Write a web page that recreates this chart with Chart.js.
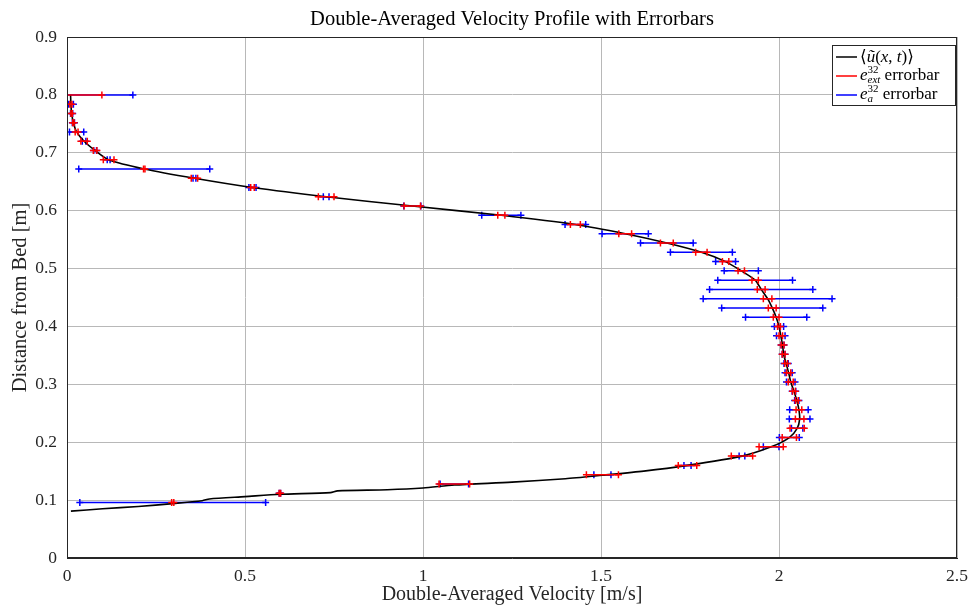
<!DOCTYPE html>
<html>
<head>
<meta charset="utf-8">
<script src="https://cdn.jsdelivr.net/npm/chart.js@4.4.0/dist/chart.umd.min.js"></script>
<style>
  html, body { margin: 0; padding: 0; background: #fff; }
  canvas { display: block; }
</style>
</head>
<body>
<canvas id="chart" width="968" height="607"></canvas>
<script>
// 测点高度 [m]
const zPos = [0.800, 0.784, 0.768, 0.752, 0.736, 0.720, 0.704, 0.688, 0.672, 0.656,
              0.640, 0.624, 0.608, 0.592, 0.576, 0.560, 0.544, 0.528, 0.512, 0.496,
              0.480, 0.464, 0.448, 0.432, 0.416, 0.400, 0.384, 0.368, 0.352, 0.336,
              0.320, 0.304, 0.288, 0.272, 0.256, 0.240, 0.224, 0.208, 0.192, 0.176,
              0.160, 0.144, 0.128, 0.112, 0.096];
// 双平均速度 [m/s]
const uMean = [0.010, 0.011, 0.013, 0.018, 0.027, 0.048, 0.079, 0.117, 0.217, 0.358,
               0.521, 0.728, 0.970, 1.220, 1.428, 1.568, 1.685, 1.782, 1.850, 1.894,
               1.933, 1.950, 1.968, 1.981, 1.992, 2.000, 2.005, 2.010, 2.013, 2.020,
               2.027, 2.033, 2.042, 2.050, 2.056, 2.058, 2.051, 2.029, 1.978, 1.896,
               1.743, 1.504, 1.088, 0.598, 0.297];
// e_ext^32 误差半宽
const eExt = [0.088, 0.003, 0.002, 0.002, 0.004, 0.009, 0.005, 0.015, 0.002, 0.009,
              0.005, 0.022, 0.023, 0.010, 0.014, 0.018, 0.018, 0.016, 0.009, 0.009,
              0.009, 0.011, 0.012, 0.011, 0.008, 0.004, 0.005, 0.004, 0.004, 0.004,
              0.006, 0.007, 0.004, 0.004, 0.008, 0.012, 0.020, 0.020, 0.034, 0.030,
              0.026, 0.045, 0.043, 0.002, 0.003];
// e_a^32 误差半宽
const eA = [0.175, 0.007, 0.003, 0.003, 0.020, 0.005, 0.004, 0.004, 0.184, 0.004,
            0.010, 0.008, 0.024, 0.055, 0.029, 0.065, 0.074, 0.087, 0.028, 0.048,
            0.105, 0.145, 0.181, 0.142, 0.086, 0.013, 0.012, 0.004, 0.004, 0.006,
            0.010, 0.012, 0.005, 0.006, 0.026, 0.029, 0.016, 0.028, 0.022, 0.008,
            0.010, 0.024, 0.040, 0.002, 0.261];
// 底部剖面曲线（误差点以下部分）
const profileLowU = [0.011, 0.100, 0.200, 0.297, 0.380, 0.400, 0.500, 0.598, 0.740, 0.760,
                     0.900, 1.000, 1.088, 1.250, 1.400, 1.504, 1.620, 1.743];
const profileLowZ = [0.081, 0.085, 0.089, 0.094, 0.099, 0.102, 0.106, 0.110, 0.113, 0.116,
                     0.118, 0.121, 0.126, 0.131, 0.137, 0.143, 0.150, 0.160];

const xTickValues = [0, 0.5, 1, 1.5, 2, 2.5];
const yTickValues = [0, 0.1, 0.2, 0.3, 0.4, 0.5, 0.6, 0.7, 0.8, 0.9];

const SERIF = '"Liberation Serif", "DejaVu Serif", serif';
const AXIS_COLOR = '#262626';

// 误差棒：每一行两个端点 + 一个空点断开
function buildBars(half) {
    const pts = [];
    zPos.forEach((z, i) => {
        pts.push({ x: uMean[i] - half[i], y: z });
        pts.push({ x: uMean[i] + half[i], y: z });
        pts.push({ x: null, y: null });
    });
    return pts;
}

// 剖面曲线：底部点 + 误差点中心（从下往上）
function buildProfile() {
    const pts = profileLowU.map((u, i) => ({ x: u, y: profileLowZ[i] }));
    for (let i = zPos.length - 1; i >= 0; i--) {
        if (zPos[i] > profileLowZ[profileLowZ.length - 1]) pts.push({ x: uMean[i], y: zPos[i] });
    }
    return pts;
}

function barDataset(label, color, half, order) {
    return {
        label: label,
        data: buildBars(half),
        showLine: true,
        borderColor: color,
        backgroundColor: color,
        borderWidth: 1.5,
        pointStyle: 'cross',
        pointRadius: 3.5,
        pointBorderWidth: 1.5,
        pointBorderColor: color,
        spanGaps: false,
        order: order
    };
}

// 标题 + 外框 + 图例
const decorPlugin = {
    id: 'decor',
    afterDraw(chart) {
        const ctx = chart.ctx;
        const a = chart.chartArea;
        ctx.save();
        // 外框
        ctx.strokeStyle = AXIS_COLOR;
        ctx.lineWidth = 1;
        ctx.strokeRect(Math.round(a.left) + 0.5, Math.round(a.top) + 0.5,
                       Math.round(a.right - a.left) - 1, Math.round(a.bottom - a.top) - 1);
        // 标题
        ctx.fillStyle = '#000';
        ctx.font = '20.5px ' + SERIF;
        ctx.textAlign = 'center';
        ctx.textBaseline = 'middle';
        ctx.fillText('Double-Averaged Velocity Profile with Errorbars', (a.left + a.right) / 2, 20);

        // 图例
        const bx = 832, by = 45, bw = 124, bh = 61;
        ctx.fillStyle = '#fff';
        ctx.fillRect(bx, by, bw, bh);
        ctx.strokeStyle = AXIS_COLOR;
        ctx.strokeRect(bx + 0.5, by + 0.5, bw - 1, bh - 1);

        const rows = [
            { color: '#000000', y: 57 },
            { color: '#ff0000', y: 76 },
            { color: '#0000ff', y: 95 }
        ];
        rows.forEach(r => {
            ctx.strokeStyle = r.color;
            ctx.lineWidth = 1.5;
            ctx.beginPath();
            ctx.moveTo(836, r.y);
            ctx.lineTo(857, r.y);
            ctx.stroke();
        });

        ctx.fillStyle = '#000';
        ctx.textAlign = 'left';
        ctx.textBaseline = 'alphabetic';
        const drawPiece = (x, y, p) => {
            ctx.font = (p.italic ? 'italic ' : '') + p.size + 'px ' + SERIF;
            ctx.fillText(p.t, x, y);
            return ctx.measureText(p.t).width;
        };
        const runs = (x, y, list) => {
            list.forEach(p => {
                if (p.stack) {
                    const w1 = drawPiece(x, y + p.stack[0].dy, p.stack[0]);
                    const w2 = drawPiece(x, y + p.stack[1].dy, p.stack[1]);
                    x += Math.max(w1, w2);
                } else {
                    x += drawPiece(x, y + (p.dy || 0), p);
                }
            });
        };
        runs(860, 62, [
            { t: '\u27E8', size: 17 },
            { t: '\u0169', size: 17, italic: true },
            { t: '(', size: 17 },
            { t: 'x', size: 17, italic: true },
            { t: ', ', size: 17 },
            { t: 't', size: 17, italic: true },
            { t: ')', size: 17 },
            { t: '\u27E9', size: 17 }
        ]);
        runs(860, 80, [
            { t: 'e', size: 17, italic: true },
            { stack: [
                { t: '32', size: 11, dy: -7 },
                { t: 'ext', size: 11, italic: true, dy: 3 }
            ] },
            { t: ' errorbar', size: 17 }
        ]);
        runs(860, 99, [
            { t: 'e', size: 17, italic: true },
            { stack: [
                { t: '32', size: 11, dy: -7 },
                { t: 'a', size: 11, italic: true, dy: 3 }
            ] },
            { t: ' errorbar', size: 17 }
        ]);
        ctx.restore();
    }
};

const ctx = document.getElementById('chart').getContext('2d');
new Chart(ctx, {
    type: 'scatter',
    data: {
        datasets: [
            barDataset('e_ext errorbar', '#ff0000', eExt, 0),
            {
                label: 'profile',
                data: buildProfile(),
                showLine: true,
                borderColor: '#000000',
                borderWidth: 1.6,
                pointRadius: 0,
                tension: 0.25,
                order: 1
            },
            barDataset('e_a errorbar', '#0000ff', eA, 2)
        ]
    },
    options: {
        responsive: false,
        animation: false,
        devicePixelRatio: 1,
        layout: { padding: { top: 37, right: 11, left: 0, bottom: 0 } },
        plugins: {
            legend: { display: false },
            tooltip: { enabled: false }
        },
        scales: {
            x: {
                type: 'linear',
                min: 0,
                max: 2.5,
                afterFit: (scale) => {
                    scale.height = 49;
                    scale.paddingLeft = 0;
                    scale.paddingRight = 0;
                },
                afterBuildTicks: (scale) => { scale.ticks = xTickValues.map(v => ({ value: v })); },
                grid: { color: '#b8b8b8', lineWidth: 1, drawTicks: false },
                border: { color: AXIS_COLOR, width: 1 },
                ticks: {
                    padding: 8,
                    maxRotation: 0,
                    color: AXIS_COLOR,
                    font: { family: SERIF, size: 17.5 },
                    callback: (v) => String(+v.toFixed(2))
                },
                title: {
                    display: true,
                    text: 'Double-Averaged Velocity [m/s]',
                    color: AXIS_COLOR,
                    font: { family: SERIF, size: 20 },
                    padding: { top: 0, bottom: 0 }
                }
            },
            y: {
                type: 'linear',
                min: 0,
                max: 0.9,
                afterFit: (scale) => {
                    scale.width = 67;
                    scale.paddingTop = 0;
                    scale.paddingBottom = 0;
                },
                afterBuildTicks: (scale) => { scale.ticks = yTickValues.map(v => ({ value: v })); },
                grid: { color: '#b8b8b8', lineWidth: 1, drawTicks: false },
                border: { color: AXIS_COLOR, width: 1 },
                ticks: {
                    padding: 10,
                    color: AXIS_COLOR,
                    font: { family: SERIF, size: 17.5 },
                    callback: (v) => String(+v.toFixed(2))
                },
                title: {
                    display: true,
                    text: 'Distance from Bed [m]',
                    color: AXIS_COLOR,
                    font: { family: SERIF, size: 20.5 },
                    padding: { top: 8, bottom: 0 }
                }
            }
        }
    },
    plugins: [decorPlugin]
});
</script>
</body>
</html>
